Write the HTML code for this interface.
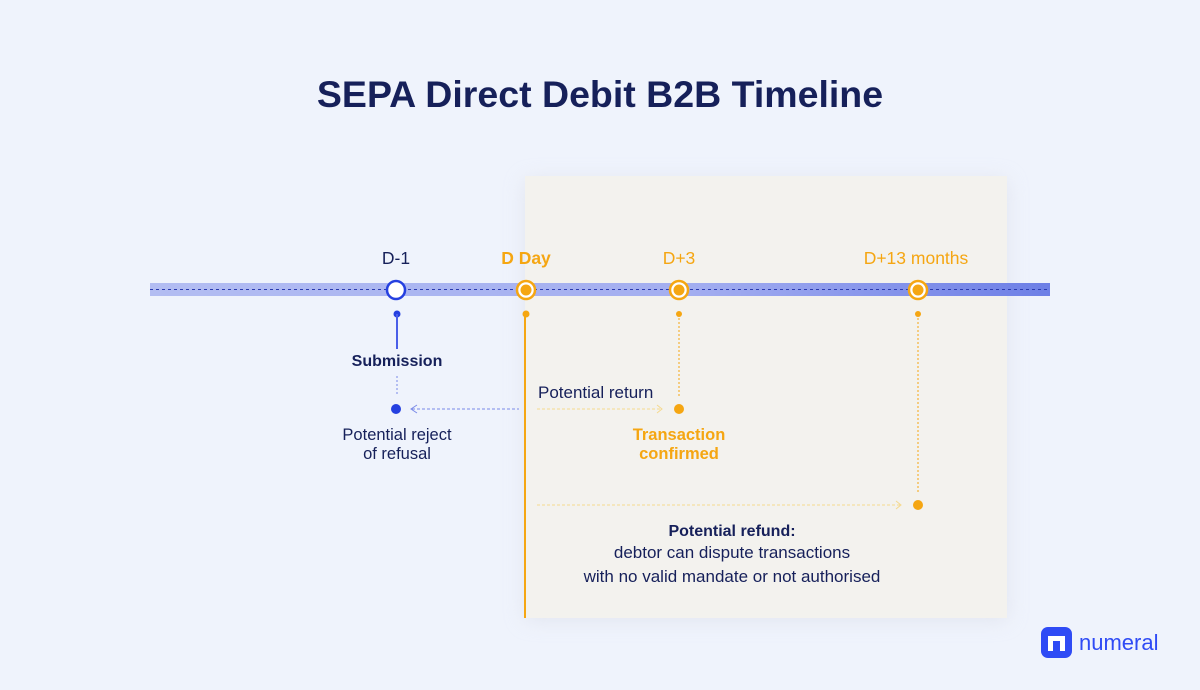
<!DOCTYPE html>
<html><head><style>
body{margin:0;width:1200px;height:685px;background:#eff3fc;overflow:hidden;font-family:"Liberation Sans",sans-serif}
</style></head><body>
<svg width="1200" height="685" viewBox="0 0 1200 685" xmlns="http://www.w3.org/2000/svg" font-family="Liberation Sans, sans-serif">
<defs>
<filter id="sh" x="-20%" y="-20%" width="140%" height="140%"><feGaussianBlur stdDeviation="10"/></filter>
<linearGradient id="bar" x1="0" x2="1"><stop offset="0" stop-color="#b3bdf2"/><stop offset="0.6" stop-color="#a3aef0"/><stop offset="1" stop-color="#6d7fe6"/></linearGradient>
</defs>
<rect width="1200" height="685" fill="#eff3fc"/>
<text x="600" y="107" text-anchor="middle" font-size="37.5" font-weight="bold" fill="#16205a">SEPA Direct Debit B2B Timeline</text>
<rect x="525" y="180" width="482" height="440" fill="#d8dbe6" filter="url(#sh)" opacity="0.6"/>
<rect x="525" y="176" width="482" height="442" fill="#f3f2ee"/>
<rect x="150" y="283" width="900" height="13" fill="url(#bar)"/>
<line x1="150" y1="289.5" x2="1050" y2="289.5" stroke="#2a3ab0" stroke-width="1" stroke-dasharray="3,3"/>
<g font-size="17.5" text-anchor="middle">
<text x="396" y="264" fill="#16205a">D-1</text>
<text x="526" y="264" fill="#f5a612" font-weight="bold">D Day</text>
<text x="679" y="264" fill="#f5a612">D+3</text>
<text x="916" y="264" fill="#f5a612">D+13 months</text>
</g>
<circle cx="396" cy="290" r="9" fill="#fff" stroke="#2540e0" stroke-width="2.5"/>
<g fill="#f5a612" stroke="#f5a612">
<circle cx="526" cy="290" r="9" fill="#fff" stroke-width="2.5"/><circle cx="526" cy="290" r="5.5" stroke="none"/>
<circle cx="679" cy="290" r="9" fill="#fff" stroke-width="2.5"/><circle cx="679" cy="290" r="5.5" stroke="none"/>
<circle cx="918" cy="290" r="9" fill="#fff" stroke-width="2.5"/><circle cx="918" cy="290" r="5.5" stroke="none"/>
</g>
<circle cx="397" cy="314" r="3.5" fill="#2540e0"/>
<line x1="397" y1="314" x2="397" y2="349" stroke="#4a5ee8" stroke-width="2"/>
<text x="397" y="366" text-anchor="middle" font-size="16" font-weight="bold" fill="#16205a">Submission</text>
<line x1="397" y1="376" x2="397" y2="394" stroke="#7a8ae8" stroke-width="1" stroke-dasharray="2,2"/>
<circle cx="396" cy="409" r="5" fill="#2540e0"/>
<line x1="412" y1="409" x2="519" y2="409" stroke="#7a8ae8" stroke-width="1" stroke-dasharray="3,2"/>
<polyline points="417,405 411,409 417,413" fill="none" stroke="#7a8ae8" stroke-width="1"/>
<text x="397" y="440" text-anchor="middle" font-size="16.5" fill="#16205a">Potential reject</text>
<text x="397" y="459" text-anchor="middle" font-size="16.5" fill="#16205a">of refusal</text>
<circle cx="526" cy="314" r="3.5" fill="#f5a612"/>
<line x1="525" y1="314" x2="525" y2="618" stroke="#f5a612" stroke-width="2"/>
<circle cx="679" cy="314" r="3" fill="#f5a612"/>
<line x1="679" y1="314" x2="679" y2="396" stroke="#f5a612" stroke-width="1" stroke-dasharray="2,2"/>
<text x="538" y="398" font-size="17" fill="#16205a">Potential return</text>
<line x1="537" y1="409" x2="661" y2="409" stroke="#f5d98e" stroke-width="1" stroke-dasharray="3,2"/>
<polyline points="657,405 662,409 657,413" fill="none" stroke="#f5d98e" stroke-width="1"/>
<circle cx="679" cy="409" r="5" fill="#f5a612"/>
<text x="679" y="440" text-anchor="middle" font-size="16.5" font-weight="bold" fill="#f5a612">Transaction</text>
<text x="679" y="459" text-anchor="middle" font-size="16.5" font-weight="bold" fill="#f5a612">confirmed</text>
<circle cx="918" cy="314" r="3" fill="#f5a612"/>
<line x1="918" y1="314" x2="918" y2="492" stroke="#f5a612" stroke-width="1" stroke-dasharray="2,2"/>
<line x1="537" y1="505" x2="900" y2="505" stroke="#f5d98e" stroke-width="1" stroke-dasharray="3,2"/>
<polyline points="896,501 901,505 896,509" fill="none" stroke="#f5d98e" stroke-width="1"/>
<circle cx="918" cy="505" r="5" fill="#f5a612"/>
<g font-size="17" text-anchor="middle" fill="#16205a">
<text x="732" y="536" font-weight="bold" font-size="16">Potential refund:</text>
<text x="732" y="558">debtor can dispute transactions</text>
<text x="732" y="582">with no valid mandate or not authorised</text>
</g>
<rect x="1041" y="627" width="31" height="31" rx="7" fill="#2f4bf5"/>
<path d="M1048,651 V636 H1065 V651 H1060 V641 H1053 V651 Z" fill="#fff"/>
<text x="1079" y="650" font-size="22" fill="#2f4bf5">numeral</text>
</svg>
</body></html>
